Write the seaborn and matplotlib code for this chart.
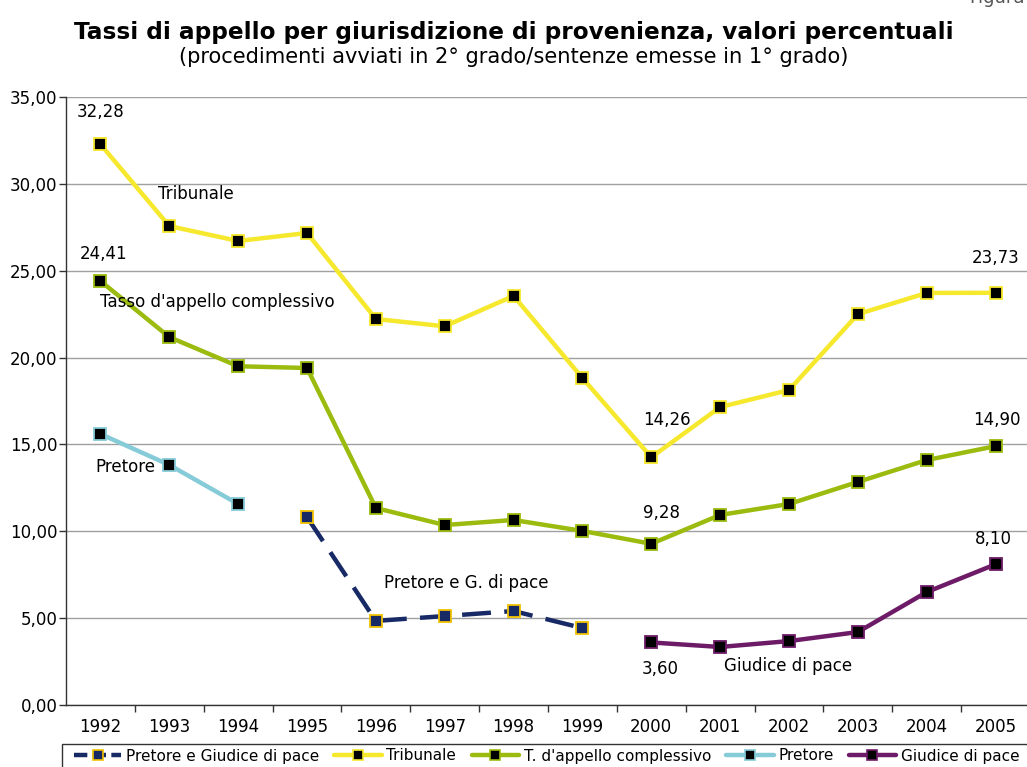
import matplotlib
matplotlib.use("Agg")
import matplotlib.pyplot as plt
from matplotlib.lines import Line2D
from matplotlib.patches import Rectangle
from matplotlib.ticker import FuncFormatter, MultipleLocator
import pandas as pd
import seaborn as sns

# Data
YEARS = list(range(1992, 2006))

TRIBUNALE_YEARS = list(range(1992, 2006))
TRIBUNALE = [32.28, 27.57, 26.71, 27.17, 22.22, 21.80, 23.55, 18.82,
             14.26, 17.15, 18.13, 22.50, 23.72, 23.73]

COMPLESSIVO_YEARS = list(range(1992, 2006))
COMPLESSIVO = [24.41, 21.18, 19.50, 19.40, 11.34, 10.36, 10.65, 10.02,
               9.28, 10.94, 11.57, 12.84, 14.10, 14.90]

PRETORE_YEARS = [1992, 1993, 1994]
PRETORE = [15.60, 13.82, 11.57]

PRETORE_GDP_YEARS = [1995, 1996, 1997, 1998, 1999]
PRETORE_GDP = [10.82, 4.84, 5.12, 5.41, 4.43]

GDP_YEARS = [2000, 2001, 2002, 2003, 2004, 2005]
GDP = [3.60, 3.34, 3.68, 4.20, 6.50, 8.10]

COLORS = {
    "Pretore e Giudice di pace": "#172a66",
    "Tribunale": "#f6e82c",
    "T. d'appello complessivo": "#9bbb0e",
    "Pretore": "#86cbd8",
    "Giudice di pace": "#6d1b67",
}
DASHED = "Pretore e Giudice di pace"

sns.set_theme(style="white")
plt.rcParams["font.family"] = ["DejaVu Sans"]
for key in ["text.color", "axes.labelcolor", "xtick.color", "ytick.color"]:
    plt.rcParams[key] = "black"

fig = plt.figure(figsize=(10.27, 7.67), dpi=100)
ax = fig.add_axes([66 / 1027, 62 / 767, 964 / 1027, 608 / 767])


def draw(years, values, name):
    df = pd.DataFrame({"anno": years, "valore": values})
    color = COLORS[name]
    dashed = name == DASHED
    sns.lineplot(
        data=df, x="anno", y="valore", ax=ax, color=color, lw=3.2,
        marker="s", markersize=9, markerfacecolor=color if dashed else "black",
        markeredgecolor="#f2c200" if dashed else color, markeredgewidth=1.3,
        linestyle=(0, (6.5, 3)) if dashed else "-", zorder=3,
    )


draw(TRIBUNALE_YEARS, TRIBUNALE, "Tribunale")
draw(COMPLESSIVO_YEARS, COMPLESSIVO, "T. d'appello complessivo")
draw(PRETORE_YEARS, PRETORE, "Pretore")
draw(PRETORE_GDP_YEARS, PRETORE_GDP, DASHED)
draw(GDP_YEARS, GDP, "Giudice di pace")

ax.set_xlim(1991.5, 2005.5)
ax.set_ylim(0, 35)
ax.yaxis.set_major_locator(MultipleLocator(5))
ax.yaxis.set_major_formatter(FuncFormatter(lambda v, _: f"{v:.2f}".replace(".", ",")))
ax.set_xticks(YEARS)
ax.set_xticks([y + 0.5 for y in YEARS[:-1]], minor=True)
ax.set_xlabel("")
ax.set_ylabel("")

ax.grid(axis="y", color="#a0a0a0", lw=1.0)
ax.set_axisbelow(True)
for s in ["top", "right"]:
    ax.spines[s].set_visible(False)
for s in ["left", "bottom"]:
    ax.spines[s].set_color("#333333")
    ax.spines[s].set_linewidth(1.0)

ax.tick_params(axis="y", left=True, length=5, width=1, color="#333333",
               labelsize=12, pad=1)
ax.tick_params(axis="x", which="major", bottom=False, length=0, labelsize=12, pad=9)
ax.tick_params(axis="x", which="minor", bottom=True, length=5, width=1,
               color="#333333")

# Value labels and series names
label_kw = dict(fontsize=12, color="black", zorder=5)
ax.text(1992, 33.6, "32,28", ha="center", va="bottom", **label_kw)
ax.text(1992.05, 25.45, "24,41", ha="center", va="bottom", **label_kw)
ax.text(2000.23, 15.9, "14,26", ha="center", va="bottom", **label_kw)
ax.text(2000.15, 10.55, "9,28", ha="center", va="bottom", **label_kw)
ax.text(2005, 25.2, "23,73", ha="center", va="bottom", **label_kw)
ax.text(2005.02, 15.9, "14,90", ha="center", va="bottom", **label_kw)
ax.text(2004.97, 9.05, "8,10", ha="center", va="bottom", **label_kw)
ax.text(2000.13, 2.6, "3,60", ha="center", va="top", **label_kw)
ax.text(1992.84, 29.4, "Tribunale", ha="left", va="center", **label_kw)
ax.text(1991.99, 23.2, "Tasso d'appello complessivo", ha="left", va="center", **label_kw)
ax.text(1991.92, 13.7, "Pretore", ha="left", va="center", **label_kw)
ax.text(1996.12, 7.0, "Pretore e G. di pace", ha="left", va="center", **label_kw)
ax.text(2001.06, 2.25, "Giudice di pace", ha="left", va="center", **label_kw)

# Titles
fig.text(0.5, 1 - 33 / 767, "Tassi di appello per giurisdizione di provenienza, valori percentuali",
         ha="center", va="center", fontsize=16.7, fontweight="bold")
fig.text(0.5, 1 - 57 / 767, "(procedimenti avviati in 2° grado/sentenze emesse in 1° grado)",
         ha="center", va="center", fontsize=15.1)
fig.text(1 - 2 / 1027, 1 + 2 / 767, "Figura", ha="right", va="center",
         fontsize=13, color="#555555")

# Legend along the bottom: frame runs past the right and bottom edges
fig.patches.append(Rectangle((62 / 1027, -0.05), 1.0, (767 - 744) / 767 + 0.05,
                             transform=fig.transFigure, fill=False,
                             edgecolor="#333333", lw=1.0))
handles = []
for name, color in COLORS.items():
    dashed = name == DASHED
    handles.append(Line2D([], [], color=color, lw=3.2, marker="s", markersize=7,
                          markerfacecolor=color if dashed else "black",
                          markeredgecolor="#f2c200" if dashed else color,
                          markeredgewidth=1.2,
                          linestyle=(0, (3, 1.2)) if dashed else "-"))
leg = fig.legend(handles, list(COLORS.keys()), loc="center left",
                 bbox_to_anchor=(74 / 1027, 1 - 756 / 767), ncol=5, fontsize=11,
                 frameon=False, handlelength=3.1, handletextpad=0.3,
                 columnspacing=1.0, borderpad=0, borderaxespad=0)

fig.savefig("out.png", dpi=100)
